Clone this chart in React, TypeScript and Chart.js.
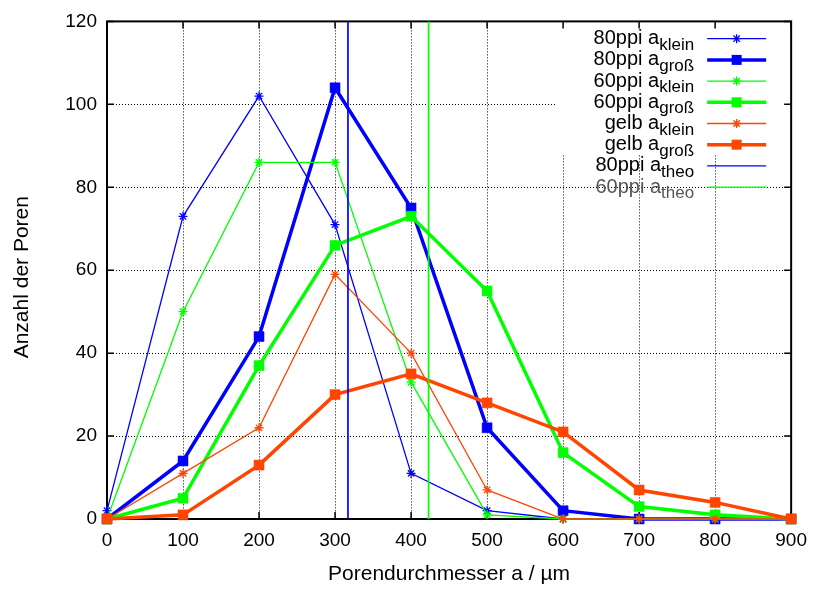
import React, { useEffect, useRef } from "react";
import { Chart, registerables } from "chart.js";

Chart.register(...registerables);

// ---- data ----
const diameters = [0, 100, 200, 300, 400, 500, 600, 700, 800, 900];
const p80Klein = [2, 73, 102, 71, 11, 2, 0, 0, 0, 0];
const p80Gross = [0, 14, 44, 104, 75, 22, 2, 0, 0, 0];
const p60Klein = [0, 50, 86, 86, 33, 1, 0, 0, 0, 0];
const p60Gross = [0, 5, 37, 66, 73, 55, 16, 3, 1, 0];
const gelbKlein = [0, 11, 22, 59, 40, 7, 0, 0, 0, 0];
const gelbGross = [0, 1, 13, 30, 35, 28, 21, 7, 4, 0];
const theo80 = 317;
const theo60 = 423;
const xTicks = [0, 100, 200, 300, 400, 500, 600, 700, 800, 900];
const yTicks = [0, 20, 40, 60, 80, 100, 120];

const xTitle = "Porendurchmesser a / µm";
const yTitle = "Anzahl der Poren";
const legendMain = ["80ppi a", "80ppi a", "60ppi a", "60ppi a", "gelb a", "gelb a", "80ppi a", "60ppi a"];
const legendSub = ["klein", "groß", "klein", "groß", "klein", "groß", "theo", "theo"];

const BLUE = "#0000ff";
const GREEN = "#00ff00";
const ORANGE = "#ff4500";
const FONT = '"Liberation Sans", Arial, sans-serif';

const styles = [
  { color: BLUE, thick: false, marker: true },
  { color: BLUE, thick: true, marker: true },
  { color: GREEN, thick: false, marker: true },
  { color: GREEN, thick: true, marker: true },
  { color: ORANGE, thick: false, marker: true },
  { color: ORANGE, thick: true, marker: true },
  { color: BLUE, thick: false, marker: false },
  { color: GREEN, thick: false, marker: false },
];

const THIN = 1.3;
const THICK = 3.5;
const SQ = 5; // half side of thick marker square

function pts(ys: number[]) {
  return diameters.map((x, i) => ({ x, y: ys[i] }));
}

function drawStar(ctx: CanvasRenderingContext2D, x: number, y: number, r: number) {
  const d = r * Math.SQRT1_2;
  ctx.beginPath();
  ctx.moveTo(x - r, y);
  ctx.lineTo(x + r, y);
  ctx.moveTo(x, y - r);
  ctx.lineTo(x, y + r);
  ctx.moveTo(x - d, y - d);
  ctx.lineTo(x + d, y + d);
  ctx.moveTo(x - d, y + d);
  ctx.lineTo(x + d, y - d);
  ctx.stroke();
}

const framePlugin = {
  id: "gnuplotFrame",
  beforeDatasetsDraw(chart: any) {
    const { ctx, chartArea: ca, scales } = chart;
    const xs = scales.x;
    const ys = scales.y;
    const keyL = ca.right - 236;
    const keyB = ca.top + 134;
    ctx.save();
    // dotted grid
    ctx.strokeStyle = "#000";
    ctx.lineWidth = 1;
    ctx.setLineDash([1, 2]);
    for (const v of xTicks) {
      if (v === xTicks[0] || v === xTicks[xTicks.length - 1]) continue;
      const px = Math.round(xs.getPixelForValue(v)) + 0.5;
      const top = px > keyL ? keyB : ca.top;
      ctx.beginPath();
      ctx.moveTo(px, top);
      ctx.lineTo(px, ca.bottom);
      ctx.stroke();
    }
    for (const v of yTicks) {
      if (v === yTicks[0] || v === yTicks[yTicks.length - 1]) continue;
      const py = Math.round(ys.getPixelForValue(v)) + 0.5;
      const right = py < keyB ? keyL : ca.right;
      ctx.beginPath();
      ctx.moveTo(ca.left, py);
      ctx.lineTo(right, py);
      ctx.stroke();
    }
    ctx.setLineDash([]);
    // inward ticks on all sides
    ctx.lineWidth = 1.5;
    const tl = 7;
    for (const v of xTicks) {
      const px = xs.getPixelForValue(v);
      ctx.beginPath();
      ctx.moveTo(px, ca.bottom);
      ctx.lineTo(px, ca.bottom - tl);
      ctx.moveTo(px, ca.top);
      ctx.lineTo(px, ca.top + tl);
      ctx.stroke();
    }
    for (const v of yTicks) {
      const py = ys.getPixelForValue(v);
      ctx.beginPath();
      ctx.moveTo(ca.left, py);
      ctx.lineTo(ca.left + tl, py);
      ctx.moveTo(ca.right, py);
      ctx.lineTo(ca.right - tl, py);
      ctx.stroke();
    }
    // border
    ctx.lineWidth = 2;
    ctx.strokeRect(ca.left, ca.top, ca.right - ca.left, ca.bottom - ca.top);
    ctx.restore();
  },
  afterDraw(chart: any) {
    const { ctx, chartArea: ca } = chart;
    ctx.save();
    // y-axis title
    ctx.save();
    ctx.translate(22, (ca.top + ca.bottom) / 2 + 7);
    ctx.rotate(-Math.PI / 2);
    ctx.fillStyle = "#000";
    ctx.font = `21px ${FONT}`;
    ctx.textAlign = "center";
    ctx.textBaseline = "middle";
    ctx.fillText(yTitle, 0, 0);
    ctx.restore();
    // key
    const textRight = ca.right - 97;
    for (let i = 0; i < legendMain.length; i++) {
      const st = styles[i];
      const cy = ca.top + 17.3 + i * 21.2;
      const textColor = i === legendMain.length - 1 ? "#555555" : "#000000";
      ctx.fillStyle = textColor;
      ctx.textAlign = "left";
      ctx.textBaseline = "alphabetic";
      ctx.font = `17px ${FONT}`;
      const subW = ctx.measureText(legendSub[i]).width;
      ctx.fillText(legendSub[i], textRight - subW, cy + 11);
      ctx.font = `20px ${FONT}`;
      const mainW = ctx.measureText(legendMain[i]).width;
      ctx.fillText(legendMain[i], textRight - subW - mainW, cy + 5.5);
      // sample
      ctx.strokeStyle = st.color;
      ctx.fillStyle = st.color;
      ctx.lineWidth = st.thick ? THICK : THIN;
      ctx.beginPath();
      ctx.moveTo(ca.right - 84, cy);
      ctx.lineTo(ca.right - 25, cy);
      ctx.stroke();
      if (st.marker) {
        const mx = ca.right - 54.5;
        if (st.thick) {
          ctx.fillRect(mx - SQ, cy - SQ, 2 * SQ, 2 * SQ);
        } else {
          ctx.lineWidth = 1.3;
          drawStar(ctx, mx, cy, 4.5);
        }
      }
    }
    ctx.restore();
  },
};

export default function App() {
  const canvasRef = useRef<HTMLCanvasElement | null>(null);

  useEffect(() => {
    const canvas = canvasRef.current;
    if (!canvas) return;
    const seriesData = [
      pts(p80Klein),
      pts(p80Gross),
      pts(p60Klein),
      pts(p60Gross),
      pts(gelbKlein),
      pts(gelbGross),
      [
        { x: theo80, y: yTicks[0] },
        { x: theo80, y: yTicks[yTicks.length - 1] },
      ],
      [
        { x: theo60, y: yTicks[0] },
        { x: theo60, y: yTicks[yTicks.length - 1] },
      ],
    ];
    const datasets = seriesData.map((data, i) => {
      const st = styles[i];
      return {
        label: legendMain[i] + legendSub[i],
        data,
        showLine: true,
        borderColor: st.color,
        backgroundColor: st.color,
        borderWidth: st.thick ? THICK : i >= 6 ? 1.7 : THIN,
        pointStyle: st.thick ? ("rect" as const) : ("star" as const),
        pointRadius: st.marker ? (st.thick ? SQ * Math.SQRT2 : 4.5) : 0,
        pointBorderWidth: st.thick ? 0.5 : 1.3,
        pointBorderColor: st.color,
        pointBackgroundColor: st.color,
        pointHoverRadius: 0,
        tension: 0,
        clip: false as const,
        order: -i,
      };
    });

    const chart = new Chart(canvas, {
      type: "scatter",
      data: { datasets },
      plugins: [framePlugin],
      options: {
        responsive: false,
        animation: false,
        events: [],
        layout: { padding: { top: 21, right: 24, left: 0, bottom: 0 } },
        plugins: {
          legend: { display: false },
          tooltip: { enabled: false },
        },
        scales: {
          x: {
            type: "linear",
            min: 0,
            max: 900,
            grid: { display: false, drawTicks: false },
            border: { display: false },
            afterBuildTicks: (scale: any) => {
              scale.ticks = xTicks.map((v) => ({ value: v }));
            },
            afterFit: (scale: any) => {
              scale.height = 70;
            },
            ticks: {
              color: "#000",
              padding: 10,
              maxRotation: 0,
              autoSkip: false,
              font: { family: FONT, size: 19 },
            },
            title: {
              display: true,
              text: xTitle,
              color: "#000",
              font: { family: FONT, size: 21 },
              padding: { top: 0, bottom: 2 },
            },
          },
          y: {
            type: "linear",
            min: 0,
            max: 120,
            grid: { display: false, drawTicks: false },
            border: { display: false },
            afterBuildTicks: (scale: any) => {
              scale.ticks = yTicks.map((v) => ({ value: v }));
            },
            afterFit: (scale: any) => {
              scale.width = 107;
            },
            ticks: {
              color: "#000",
              padding: 10,
              autoSkip: false,
              font: { family: FONT, size: 19 },
            },
            title: { display: false },
          },
        },
      },
    });
    return () => chart.destroy();
  }, []);

  return (
    <div style={{ position: "absolute", left: 0, top: 0, width: 817, height: 589, background: "#fff" }}>
      <canvas ref={canvasRef} width={817} height={589} style={{ display: "block", width: 817, height: 589 }} />
    </div>
  );
}
